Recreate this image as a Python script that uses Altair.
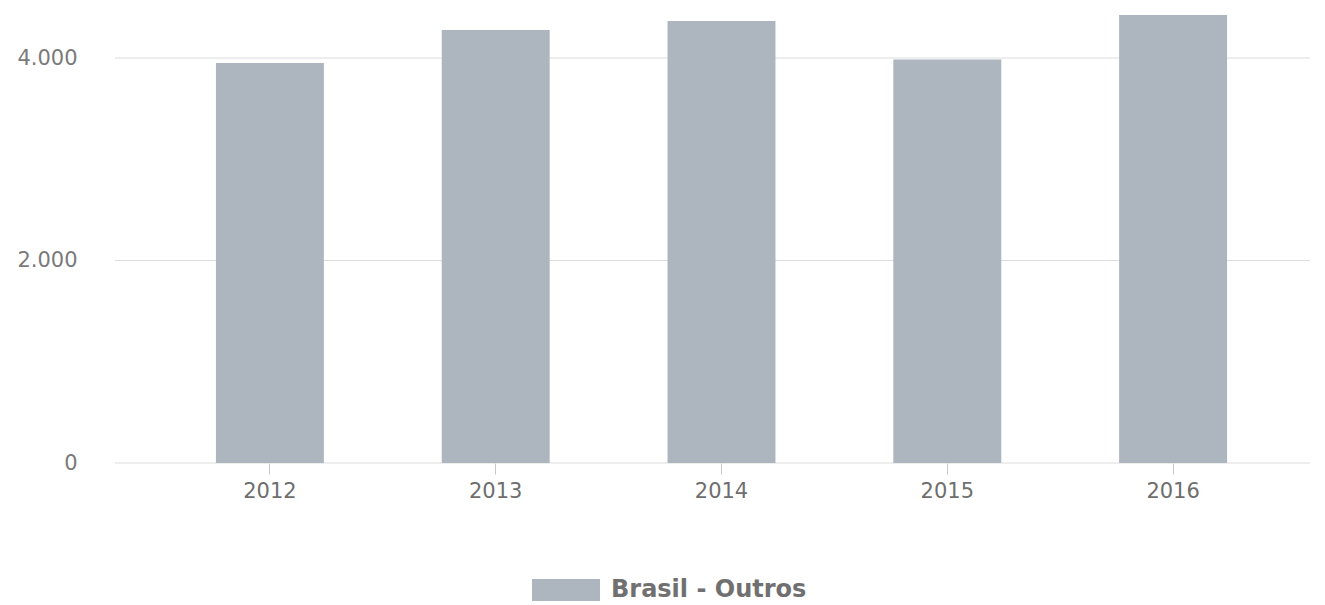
import altair as alt
import pandas as pd

years = ["2012", "2013", "2014", "2015", "2016"]
values = [3951, 4277, 4365, 3985, 4425]
series = ["Brasil - Outros"] * 5
y_ticks = [0, 2000, 4000]

df = pd.DataFrame({"ano": years, "valor": values, "serie": series})
grid_df = pd.DataFrame({"valor": y_ticks})

FONT = "DejaVu Sans"
BAR = "#adb5bf"
W, H = 1195, 455

y_scale = alt.Scale(domain=[0, 4494], nice=False, zero=True)

grid = alt.Chart(grid_df).mark_rule(color="#dcdcdc", strokeWidth=1).encode(
    y=alt.Y("valor:Q", scale=y_scale, title=None),
    x=alt.value(0), x2=alt.value(W),
)

bars = alt.Chart(df).mark_bar(color=BAR).encode(
    x=alt.X("ano:N", title=None, sort=years,
            scale=alt.Scale(range=[42, 1171], paddingInner=0.522, paddingOuter=0.261),
            axis=alt.Axis(labelAngle=0, labelFont=FONT, labelFontSize=21, labelColor="#6e6e6e",
                          tickColor="#c8c8c8", tickSize=11, labelPadding=6,
                          domain=False, grid=False)),
    y=alt.Y("valor:Q", title=None, scale=y_scale,
            axis=alt.Axis(values=y_ticks, labelFont=FONT, labelFontSize=21, labelColor="#7a7a7a",
                          labelExpr="replace(format(datum.value, ','), ',', '.')",
                          ticks=False, domain=False, labelPadding=38, grid=False)),
    fill=alt.Fill("serie:N", title=None,
                  scale=alt.Scale(range=[BAR]),
                  legend=alt.Legend(orient="none", legendX=417, legendY=548,
                                    symbolType="M-1,-0.32L1,-0.32L1,0.32L-1,0.32Z",
                                    symbolSize=4624, symbolStrokeWidth=0, symbolOpacity=1,
                                    labelFont=FONT, labelFontSize=24, labelFontWeight="bold",
                                    labelColor="#707070", labelOffset=11, padding=0,
                                    labelLimit=400)),
)

chart = alt.layer(grid, bars).properties(
    width=W, height=H,
    padding={"left": 107, "top": 0, "right": 0, "bottom": 140},
    autosize=alt.AutoSizeParams(type="none"),
).configure(background="white").configure_view(stroke=None, strokeWidth=0)

chart.save("out.html", embed_options={"renderer": "svg", "actions": False})
